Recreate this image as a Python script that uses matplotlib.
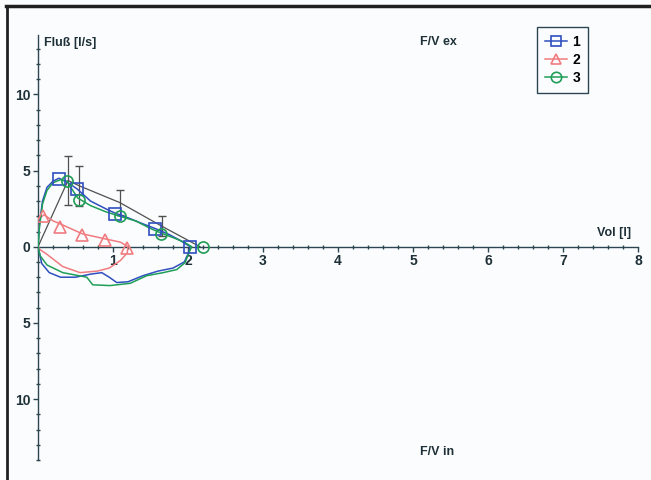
import numpy as np
import matplotlib.pyplot as plt
from matplotlib.lines import Line2D
from matplotlib.ticker import MultipleLocator, FuncFormatter

plt.rcParams['font.family'] = ['Liberation Sans', 'DejaVu Sans']

# Data: flow-volume loops (Vol [l], Fluss [l/s])
vol_1 = [0, 0.02, 0.06, 0.12, 0.2, 0.28, 0.4, 0.52, 0.7, 0.9, 1.03, 1.2, 1.4, 1.56, 1.75, 1.9, 2.03,
         2.0, 1.95, 1.8, 1.6, 1.4, 1.2, 1.05, 0.95, 0.85, 0.7, 0.5, 0.3, 0.15, 0.05, 0.0]
flow_1 = [0, 1.5, 3.0, 3.9, 4.3, 4.5, 4.2, 3.8, 3.0, 2.5, 2.2, 1.9, 1.5, 1.2, 0.8, 0.4, 0,
          -0.5, -1.0, -1.4, -1.6, -1.9, -2.3, -2.35, -2.0, -1.7, -1.8, -2.0, -2.0, -1.7, -1.1, 0]
vol_2 = [0, 0.01, 0.03, 0.08, 0.2, 0.32, 0.59, 0.91, 1.1, 1.2, 1.19, 1.1, 0.95, 0.79, 0.56, 0.33, 0.12, 0.03, 0]
flow_2 = [0, 1.2, 1.9, 2.1, 1.7, 1.45, 0.85, 0.5, 0.3, 0.0, -0.4, -0.9, -1.4, -1.6, -1.7, -1.3, -0.5, -0.2, 0]
vol_3 = [0, 0.02, 0.06, 0.12, 0.2, 0.3, 0.39, 0.45, 0.53, 0.7, 0.9, 1.09, 1.3, 1.5, 1.64, 1.8, 1.95, 2.05,
         2.03, 1.96, 1.85, 1.67, 1.45, 1.23, 0.96, 0.73, 0.65, 0.33, 0.12, 0.03, 0]
flow_3 = [0, 1.3, 2.8, 3.7, 4.2, 4.4, 4.3, 3.8, 3.2, 2.7, 2.3, 2.0, 1.7, 1.2, 0.9, 0.6, 0.3, 0,
          -0.2, -1.05, -1.5, -1.7, -1.9, -2.4, -2.55, -2.5, -2.0, -1.7, -1.2, -0.6, 0]

# marker positions
mk_vol_1 = [0.28, 0.52, 1.03, 1.56, 2.03]
mk_flow_1 = [4.47, 3.8, 2.17, 1.18, 0.0]
mk_vol_2 = [0.07, 0.29, 0.59, 0.89, 1.19]
mk_flow_2 = [2.0, 1.3, 0.8, 0.45, -0.05]
mk_vol_3 = [0.39, 0.55, 1.09, 1.64, 2.2]
mk_flow_3 = [4.34, 3.1, 2.0, 0.86, 0.0]

# mean curve with error bars
mean_vol = [0, 0.4, 0.55, 1.09, 1.65, 2.16]
mean_flow = [0, 4.35, 4.0, 2.9, 1.35, 0]
mean_err = [0, 1.6, 1.3, 0.8, 0.65, 0]

c1, c2, c3 = '#2f4fc0', '#f07c80', '#1f9e58'
axc = '#2a4650'

fig = plt.figure(figsize=(6.51, 4.8), dpi=100, facecolor='#fbfcfe')
ax = fig.add_axes([38 / 651, 1 - 460 / 480, 600 / 651, 425 / 480])
ax.set_facecolor('none')

ax.plot(mean_vol, mean_flow, color='#505050', lw=0.9, zorder=2)
ax.errorbar(mean_vol[1:-1], mean_flow[1:-1], yerr=mean_err[1:-1], fmt='none',
            ecolor='#505050', elinewidth=0.9, capsize=3, zorder=2)

ax.plot(vol_2, flow_2, color=c2, lw=1.1, zorder=3)
ax.plot(vol_1, flow_1, color=c1, lw=1.1, zorder=3)
ax.plot(vol_3, flow_3, color=c3, lw=1.1, zorder=4)
ax.plot(mk_vol_2, mk_flow_2, ls='none', marker='^', ms=8, mfc='none', mec=c2, mew=1.2, zorder=5)
ax.plot(mk_vol_1, mk_flow_1, ls='none', marker='s', ms=8.5, mfc='none', mec=c1, mew=1.2, zorder=5)
ax.plot(mk_vol_3, mk_flow_3, ls='none', marker='o', ms=8, mfc='none', mec=c3, mew=1.2, zorder=5)

ax.set_xlim(0, 8)
ax.set_ylim(-14, 13.9)
ax.spines['left'].set_position(('data', 0))
ax.spines['bottom'].set_position(('data', 0))
ax.spines['top'].set_visible(False)
ax.spines['right'].set_visible(False)
for s in ('left', 'bottom'):
    ax.spines[s].set_color(axc)
    ax.spines[s].set_linewidth(1.0)

ax.xaxis.set_major_locator(MultipleLocator(1))
ax.xaxis.set_minor_locator(MultipleLocator(0.2))
ax.yaxis.set_major_locator(MultipleLocator(5))
ax.yaxis.set_minor_locator(MultipleLocator(1))
ax.xaxis.set_major_formatter(FuncFormatter(lambda v, p: '' if v == 0 else f'{v:g}'))
ax.yaxis.set_major_formatter(FuncFormatter(lambda v, p: f'{abs(v):g}'))
ax.tick_params(which='major', length=3.5, width=1, color=axc, labelcolor='#1e3038',
               labelsize=10, direction='out', pad=2)
ax.tick_params(which='minor', length=2.5, width=1, color=axc, direction='inout')
for lab in ax.get_xticklabels() + ax.get_yticklabels():
    lab.set_fontweight('bold')

tk = dict(color='#1e3038', fontsize=9, fontweight='bold')
fig.text(44 / 651, 1 - 43 / 480, 'Fluß [l/s]', ha='left', va='center', **tk)
fig.text(631 / 651, 1 - 233 / 480, 'Vol [l]', ha='right', va='center', **tk)
fig.text(420 / 651, 1 - 42 / 480, 'F/V ex', ha='left', va='center', **tk)
fig.text(420 / 651, 1 - 452 / 480, 'F/V in', ha='left', va='center', **tk)

handles = [Line2D([], [], color=c1, marker='s', ms=7.5, mfc='none', mew=1.2, lw=1.1),
           Line2D([], [], color=c2, marker='^', ms=7.5, mfc='none', mew=1.2, lw=1.1),
           Line2D([], [], color=c3, marker='o', ms=7.5, mfc='none', mew=1.2, lw=1.1)]
leg = fig.legend(handles, ['1', '2', '3'], loc='upper left', bbox_to_anchor=(537 / 651, 1 - 27 / 480),
                 borderaxespad=0, fancybox=False, framealpha=1, edgecolor=axc, handlelength=1.6,
                 handletextpad=0.4, labelspacing=0.3, borderpad=0.55, prop=dict(size=10, weight='bold'))
leg.get_frame().set_linewidth(1.0)
leg.get_frame().set_facecolor('none')

# outer frame (top and left edges)
fig.add_artist(Line2D([6 / 651, 1], [1 - 6 / 480, 1 - 6 / 480], color='#202020', lw=2.5,
                      transform=fig.transFigure))
fig.add_artist(Line2D([7 / 651, 7 / 651], [0, 1 - 6 / 480], color='#202020', lw=2.0,
                      transform=fig.transFigure))

fig.savefig('out.png', dpi=100, facecolor=fig.get_facecolor())
